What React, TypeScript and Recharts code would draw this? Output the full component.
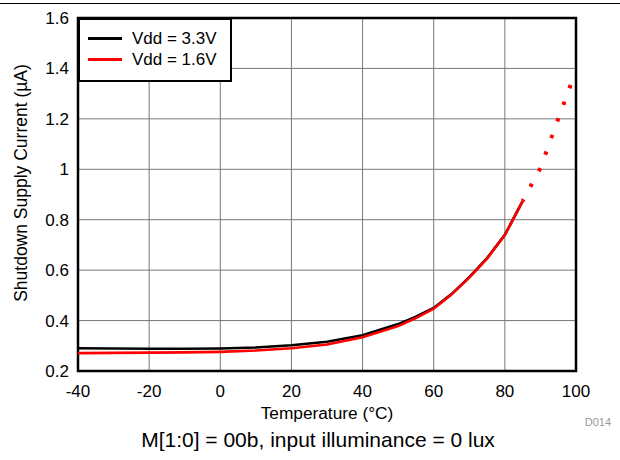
import React from 'react';
import { LineChart, Line, XAxis, YAxis, CartesianGrid, Legend, ReferenceArea } from 'recharts';

// temperature (°C) and shutdown current (µA)
const temps = [-40, -30, -20, -10, 0, 10, 20, 30, 40, 50, 55, 60, 65, 70, 75, 80, 85];
const vdd33 = [0.29, 0.289, 0.288, 0.288, 0.289, 0.293, 0.302, 0.316, 0.342, 0.386, 0.415, 0.45, 0.505, 0.572, 0.648, 0.74, 0.874];
const vdd16 = [0.271, 0.272, 0.273, 0.274, 0.276, 0.281, 0.29, 0.305, 0.334, 0.378, 0.41, 0.447, 0.503, 0.57, 0.646, 0.739, 0.874];

// extrapolated (dotted) part of the 1.6V curve
const extTemps = [85, 90, 95, 98.5];
const ext16 = [0.874, 1.005, 1.2, 1.335];

const xTicks = [-40, -20, 0, 20, 40, 60, 80, 100];
const yTicks = [0.2, 0.4, 0.6, 0.8, 1, 1.2, 1.4, 1.6];

const seriesNames = ['Vdd = 3.3V', 'Vdd = 1.6V'];
const seriesColors = ['#000000', '#ff0000'];

const font = '"Liberation Sans", Arial, sans-serif';

const data = temps.map((t, i) => ({ t, v33: vdd33[i], v16: vdd16[i] }));
const extData = extTemps.map((t, i) => ({ t, v16: ext16[i] }));

function LegendBox() {
    return (
        <div
            style={{
                width: 154,
                height: 64,
                boxSizing: 'border-box',
                border: '2.5px solid #000',
                background: '#fff',
                padding: '8px 0 0 8px',
                fontFamily: font,
                fontSize: 17,
                color: '#000',
            }}
        >
            {seriesNames.map((name, i) => (
                <div key={name} style={{ display: 'flex', alignItems: 'center', height: 21 }}>
                    <div style={{ width: 34, height: 3, background: seriesColors[i], marginRight: 10 }} />
                    <span>{name}</span>
                </div>
            ))}
        </div>
    );
}

export default function App() {
    const tick = { fontSize: 17, fill: '#000', fontFamily: font };
    return (
        <div style={{ position: 'absolute', left: 0, top: 0, width: 620, height: 460, background: '#fff', fontFamily: font }}>
            <div style={{ position: 'absolute', left: 0, top: 3, width: 620, height: 1, background: '#000' }} />
            <LineChart width={620} height={460} margin={{ top: 18, right: 44, left: 0, bottom: 0 }}>
                <CartesianGrid stroke="#777" strokeWidth={1} />
                <XAxis
                    type="number"
                    dataKey="t"
                    domain={[-40, 100]}
                    ticks={xTicks}
                    allowDataOverflow
                    height={89}
                    tick={tick}
                    tickLine={false}
                    axisLine={false}
                    tickSize={0}
                    tickMargin={14}
                />
                <YAxis
                    type="number"
                    domain={[0.2, 1.6]}
                    ticks={yTicks}
                    allowDataOverflow
                    width={78}
                    tick={tick}
                    tickLine={false}
                    axisLine={false}
                    tickSize={0}
                    tickMargin={9}
                />
                <ReferenceArea x1={-40} x2={100} y1={0.2} y2={1.6} fill="none" stroke="#000" strokeWidth={2.5} />
                <Line data={data} dataKey="v33" stroke={seriesColors[0]} strokeWidth={2.6} dot={false} type="linear" isAnimationActive={false} />
                <Line data={data} dataKey="v16" stroke={seriesColors[1]} strokeWidth={2.6} dot={false} type="linear" isAnimationActive={false} />
                <Line
                    data={extData}
                    dataKey="v16"
                    stroke={seriesColors[1]}
                    strokeWidth={4}
                    strokeDasharray="3.5 14.2"
                    strokeDashoffset={1.5}
                    dot={false}
                    type="linear"
                    isAnimationActive={false}
                />
                <Legend
                    content={<LegendBox />}
                    layout="horizontal"
                    align="center"
                    verticalAlign="middle"
                    wrapperStyle={{ left: 78, top: 18, width: 154 }}
                />
            </LineChart>
            <div
                style={{
                    position: 'absolute',
                    left: 21,
                    top: 183,
                    transform: 'translate(-50%, -50%) rotate(-90deg)',
                    whiteSpace: 'nowrap',
                    fontSize: 17.5,
                }}
            >
                Shutdown Supply Current (µA)
            </div>
            <div style={{ position: 'absolute', left: 78, width: 498, top: 403, textAlign: 'center', fontSize: 17.3 }}>
                Temperature (°C)
            </div>
            <div style={{ position: 'absolute', right: 9, top: 416, fontSize: 11, color: '#999' }}>D014</div>
            <div style={{ position: 'absolute', left: 0, width: 636, top: 428, textAlign: 'center', whiteSpace: 'nowrap', fontSize: 21 }}>
                M[1:0] = 00b, input illuminance = 0 lux
            </div>
        </div>
    );
}
